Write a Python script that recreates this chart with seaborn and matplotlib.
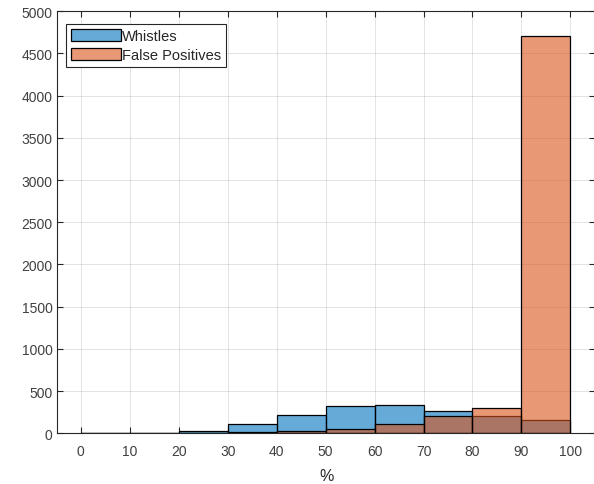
import numpy as np
import matplotlib
matplotlib.use("Agg")
import matplotlib.pyplot as plt
import seaborn as sns

# -------------------------------------------------------------
#  Datos leidos del histograma (conteos por bin de 10 %)
# -------------------------------------------------------------
bin_edges   = [0, 10, 20, 30, 40, 50, 60, 70, 80, 90, 100]
bin_centers = [5, 15, 25, 35, 45, 55, 65, 75, 85, 95]
whistles    = [0, 0, 30, 115, 217, 319, 335, 260, 205, 158]
false_pos   = [0, 0, 2, 12, 32, 51, 110, 200, 304, 4710]

x_ticks = list(range(0, 101, 10))
y_ticks = list(range(0, 5001, 500))

BLUE   = "#0072BD"
ORANGE = "#D95319"

sns.set_style("white")
plt.rcParams["font.family"] = ["Liberation Sans", "DejaVu Sans"]

fig = plt.figure(figsize=(5.94, 4.85), dpi=100)
# el borde derecho del eje queda justo fuera de la imagen, como en la referencia
ax = fig.add_axes([0.0965, 0.1045, 0.905, 0.8705])

sns.histplot(
    x=bin_centers, weights=whistles, bins=bin_edges,
    color=BLUE, alpha=0.6, edgecolor="black", linewidth=0.9,
    label="Whistles", ax=ax,
)
sns.histplot(
    x=bin_centers, weights=false_pos, bins=bin_edges,
    color=ORANGE, alpha=0.6, edgecolor="black", linewidth=0.9,
    label="False Positives", ax=ax,
)

ax.set_xlim(-4.8, 105)
ax.set_ylim(0, 5000)
ax.set_xticks(x_ticks)
ax.set_yticks(y_ticks)
ax.set_xlabel("%", fontsize=11.5, color="#262626", labelpad=7)
ax.set_ylabel("")
ax.grid(True, color="#262626", alpha=0.15, linewidth=0.6)
ax.set_axisbelow(True)

for s in ax.spines.values():
    s.set_color("#262626")
    s.set_linewidth(0.8)

ax.tick_params(axis="both", direction="in", length=4.5, width=0.8,
               colors="#262626", labelsize=10, labelcolor="#404040",
               top=True, right=True, bottom=True, left=True)
ax.tick_params(axis="x", pad=8)

leg = ax.legend(
    loc="upper left", bbox_to_anchor=(0.016, 0.969), borderaxespad=0,
    fancybox=False, framealpha=1, edgecolor="#262626",
    fontsize=10.5, handlelength=3.4, handleheight=0.9,
    handletextpad=0.1, labelspacing=0.3, borderpad=0.35,
)
leg.get_frame().set_linewidth(0.8)

plt.savefig("out.png", dpi=100)
plt.close()
